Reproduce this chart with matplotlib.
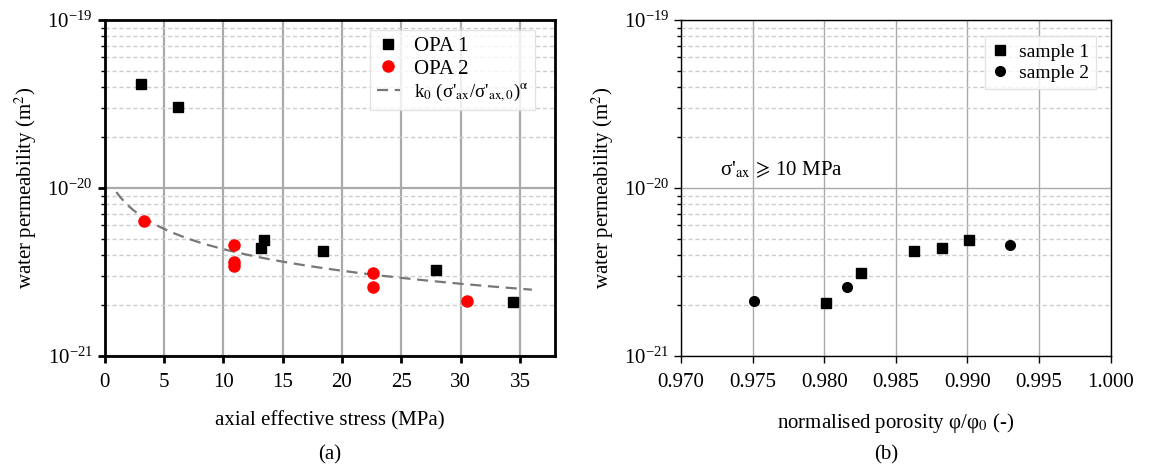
import numpy as np
import matplotlib
matplotlib.use('Agg')
import matplotlib.pyplot as plt
from matplotlib.ticker import NullFormatter, FixedLocator, LogFormatterMathtext

plt.rcParams['font.family'] = ['Liberation Serif', 'DejaVu Serif']
plt.rcParams['mathtext.fontset'] = 'stix'

#%% data

# (a) permeability vs axial effective stress
opa1_stress = [3.1, 6.2, 13.2, 13.4, 18.4, 27.9, 34.4]
opa1_k = [4.17e-20, 3.02e-20, 4.37e-21, 4.92e-21, 4.21e-21, 3.23e-21, 2.09e-21]

opa2_stress = [3.3, 10.9, 10.9, 10.9, 22.6, 22.6, 30.5]
opa2_k = [6.40e-21, 4.57e-21, 3.64e-21, 3.43e-21, 3.11e-21, 2.57e-21, 2.13e-21]

# power law fit k0*(s/s0)^alpha
k0 = 1.30e-20
s0 = 1.0
s_shift = 1.0
alpha = -0.4586
fit_range = [1.0, 36.0]

# (b) permeability vs normalised porosity
s1_por = [0.9801, 0.9826, 0.9863, 0.9882, 0.9901]
s1_k = [2.08e-21, 3.10e-21, 4.20e-21, 4.40e-21, 4.91e-21]

s2_por = [0.9751, 0.9816, 0.9930]
s2_k = [2.13e-21, 2.56e-21, 4.58e-21]

#%% figure

W, H = 1150, 470
fig = plt.figure(figsize=(W/100, H/100), dpi=100)

axa = fig.add_axes([104.5/W, 1-356/H, (555-104.5)/W, 336/H])
axb = fig.add_axes([681/W, 1-356/H, (1110.5-681)/W, 336/H])

fs = 15


def style_axis(ax, lw_spine, lw_grid):
    ax.set_yscale('log')
    ax.set_ylim(1e-21, 1e-19)
    ax.yaxis.set_major_locator(FixedLocator([1e-21, 1e-20, 1e-19]))
    ax.yaxis.set_major_formatter(LogFormatterMathtext())
    ax.yaxis.set_minor_locator(FixedLocator([m*10.0**e for e in (-21, -20) for m in range(2, 10)]))
    ax.yaxis.set_minor_formatter(NullFormatter())
    ax.grid(True, which='major', color='#aaaaaa', lw=lw_grid, ls='-')
    ax.grid(True, which='minor', axis='y', color='#cccccc', lw=1.0, ls=(0, (3, 2)))
    ax.set_axisbelow(True)
    for s in ax.spines.values():
        s.set_linewidth(lw_spine)
    ax.tick_params(which='major', direction='out', length=5, width=lw_spine, labelsize=fs)
    ax.tick_params(which='minor', direction='out', length=3, width=1)
    ax.set_ylabel('water permeability (m$^2$)', fontsize=fs, labelpad=6)


#%% (a)
style_axis(axa, 2.0, 1.6)
axa.plot(opa1_stress, opa1_k, 's', color='black', ms=7.5, label='OPA 1', zorder=3)
axa.plot(opa2_stress, opa2_k, 'o', color='red', ms=8, label='OPA 2', zorder=3)

s_fit = np.linspace(fit_range[0], fit_range[1], 200)
k_fit = k0*((s_fit + s_shift)/s0)**alpha
axa.plot(s_fit, k_fit, '--', color='#777777', lw=1.6, dashes=(5, 3),
         label=r"k$_0$ (σ'$_{\rm ax}$/σ'$_{\rm ax,0}$)$^{\mathrm{α}}$", zorder=2)

axa.set_xlim(0, 37.95)
axa.xaxis.set_major_locator(FixedLocator(np.arange(0, 40, 5)))
axa.tick_params(axis='x', pad=7)
axa.set_xlabel('axial effective stress (MPa)', fontsize=fs, labelpad=14)

leg = axa.legend(loc='upper right', fontsize=fs, frameon=True, fancybox=False,
                 handlelength=1.1, handletextpad=0.7, borderpad=0.3, labelspacing=0.15,
                 borderaxespad=0, bbox_to_anchor=(0.956, 0.97))
leg.get_texts()[2].set_fontsize(13.5)
leg.get_frame().set_edgecolor('#dddddd')
leg.get_frame().set_linewidth(1.0)

#%% (b)
style_axis(axb, 1.0, 1.0)
axb.plot(s1_por, s1_k, 's', color='black', ms=7, label='sample 1', zorder=3)
axb.plot(s2_por, s2_k, 'o', color='black', ms=7, label='sample 2', zorder=3)

axb.set_xlim(0.970, 1.000)
axb.xaxis.set_major_locator(FixedLocator([0.970, 0.975, 0.980, 0.985, 0.990, 0.995, 1.000]))
axb.xaxis.set_major_formatter(matplotlib.ticker.FormatStrFormatter('%.3f'))
axb.tick_params(axis='x', pad=7)
axb.set_xlabel('normalised porosity φ/φ$_0$ (-)', fontsize=fs, labelpad=14)

axb.text(0.9727, 1.12e-20, r"σ'$_{\rm ax}\,\geqslant\,$10 MPa", fontsize=fs, va='bottom')

leg = axb.legend(loc='upper right', fontsize=14, frameon=True, fancybox=False,
                 handlelength=0.8, handletextpad=0.6, borderpad=0.35, labelspacing=0.2,
                 borderaxespad=0, bbox_to_anchor=(0.966, 0.952))
leg.get_frame().set_edgecolor('#dddddd')
leg.get_frame().set_linewidth(1.0)

fig.text(330/W, 1-455/H, '(a)', fontsize=fs, ha='center', va='center')
fig.text(886/W, 1-455/H, '(b)', fontsize=fs, ha='center', va='center')

fig.savefig('out.png', dpi=100)
